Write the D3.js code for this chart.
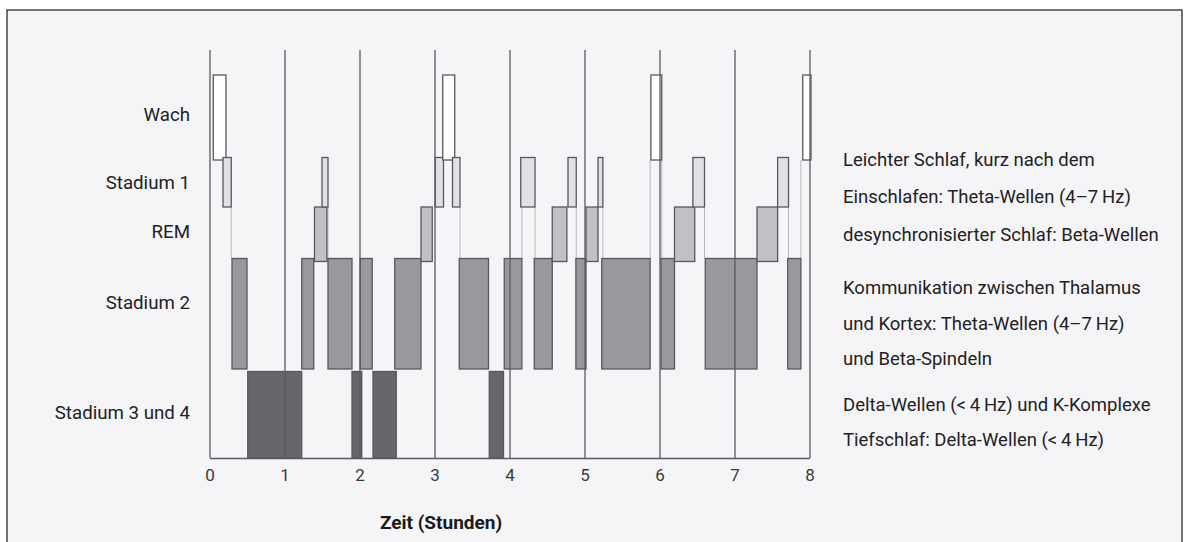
<!DOCTYPE html>
<html><head><meta charset="utf-8">
<script src="https://cdn.jsdelivr.net/npm/d3@7/dist/d3.min.js"></script>
<style>
html,body{margin:0;padding:0;background:#fff;}
svg{display:block;}
text{font-family:Roboto,"Noto Sans",sans-serif;}
</style></head>
<body>
<svg id="c" width="1187" height="542"></svg>
<script>
// ---- data ----
const stages = ["Wach", "Stadium 1", "REM", "Stadium 2", "Stadium 3 und 4"];
const segStage = ["Wach","Stadium 1","Stadium 2","Stadium 3 und 4","Stadium 2","REM","Stadium 1","Stadium 2",
  "Stadium 3 und 4","Stadium 2","Stadium 3 und 4","Stadium 2","REM","Stadium 1","Wach","Stadium 1",
  "Stadium 2","Stadium 3 und 4","Stadium 2","Stadium 1","Stadium 2","REM","Stadium 1","Stadium 2",
  "REM","Stadium 1","Stadium 2","Wach","Stadium 2","REM","Stadium 1","Stadium 2","REM","Stadium 1",
  "Stadium 2","Wach"];
const segStart = [0.05,0.18,0.30,0.51,1.23,1.40,1.50,1.58,1.90,2.01,2.18,2.47,2.82,3.01,3.11,3.24,
  3.33,3.73,3.93,4.15,4.33,4.57,4.78,4.885,5.02,5.18,5.23,5.885,6.02,6.20,6.445,6.61,7.30,7.575,7.71,7.91];
const segEnd = [0.22,0.29,0.50,1.23,1.39,1.565,1.58,1.90,2.03,2.17,2.49,2.82,2.97,3.12,3.27,3.34,
  3.72,3.92,4.165,4.34,4.57,4.765,4.89,5.02,5.18,5.245,5.875,6.03,6.20,6.47,6.60,7.30,7.575,7.72,7.885,8.02];
const hourTicks = [0,1,2,3,4,5,6,7,8];
const xTitle = "Zeit (Stunden)";
const notes = ["Leichter Schlaf, kurz nach dem", "Einschlafen: Theta-Wellen (4–7\u2009Hz)",
  "desynchronisierter Schlaf: Beta-Wellen", "Kommunikation zwischen Thalamus",
  "und Kortex: Theta-Wellen (4–7\u2009Hz)", "und Beta-Spindeln",
  "Delta-Wellen (<\u20094\u2009Hz) und K-Komplexe", "Tiefschlaf: Delta-Wellen (<\u20094\u2009Hz)"];

// ---- layout ----
const svg = d3.select("#c");
svg.append("rect").attr("x",7).attr("y",10).attr("width",1175).attr("height",540)
  .attr("fill","#f5f5f8").attr("stroke","#2a2a2a").attr("stroke-width",1.3);

const x = d3.scaleLinear().domain([0,8]).range([209.5,809.5]);
const plotTop = 50, plotBottom = 458;
const band = d3.scaleOrdinal().domain(stages)
  .range([[75,160],[157.5,207],[207,261.5],[258.5,369],[371.5,458]]);
const fill = d3.scaleOrdinal().domain(stages)
  .range(["#ffffff","#e1e1e5","#c1c1c5","#98989d","#67676b"]);
const labelY = d3.scaleOrdinal().domain(stages).range([121,189,238,309,419]);

const segs = segStage.map((s,i)=>({stage:s, start:segStart[i], end:segEnd[i]}));

// connectors
const conn = svg.append("g");
for (let i=1;i<segs.length;i++){
  const a = segs[i-1], b = segs[i];
  const ia = stages.indexOf(a.stage), ib = stages.indexOf(b.stage);
  if (Math.abs(ia-ib) < 2) continue;
  const up = ia < ib ? a : b, dn = ia < ib ? b : a;
  const xx = x(a.end);
  conn.append("line").attr("x1",xx).attr("x2",xx)
    .attr("y1",band(up.stage)[1]).attr("y2",band(dn.stage)[0])
    .attr("stroke","#b8b8bc").attr("stroke-width",1);
}

svg.append("g").selectAll("rect").data(segs).join("rect")
  .attr("x",d=>x(d.start)).attr("width",d=>x(d.end)-x(d.start))
  .attr("y",d=>band(d.stage)[0]).attr("height",d=>band(d.stage)[1]-band(d.stage)[0])
  .attr("fill",d=>fill(d.stage)).attr("stroke","#58585c").attr("stroke-width",1.3);

// axis with gridlines
const ax = svg.append("g").attr("transform",`translate(0,${plotBottom})`)
  .call(d3.axisBottom(x).tickValues(hourTicks).tickFormat(d3.format("d"))
    .tickSizeInner(-(plotBottom-plotTop)).tickSizeOuter(0).tickPadding(9));
ax.select(".domain").attr("stroke","#5a5a5e").attr("stroke-width",1.4);
ax.selectAll(".tick line").attr("stroke","#5a5a5e").attr("stroke-width",1.3);
ax.selectAll(".tick text").attr("font-size",17).attr("fill","#3a3a3e").attr("dy","0.85em")
  .style("font-family","Roboto,sans-serif");

// stage labels
svg.append("g").selectAll("text").data(stages).join("text")
  .attr("x",190).attr("y",d=>labelY(d)).attr("text-anchor","end")
  .attr("font-size",18.7).attr("fill","#222").text(d=>d);

// axis title
svg.append("text").attr("x",441).attr("y",529).attr("text-anchor","middle")
  .attr("font-size",19).attr("font-weight","bold").attr("fill","#1a1a1a").text(xTitle);

// notes
const noteY = [166,203,241,294,330,365,411,446];
svg.append("g").selectAll("text").data(notes).join("text")
  .attr("x",843).attr("y",(d,i)=>noteY[i]).attr("font-size",18.5).attr("fill","#222").text(d=>d);
</script>
</body></html>
